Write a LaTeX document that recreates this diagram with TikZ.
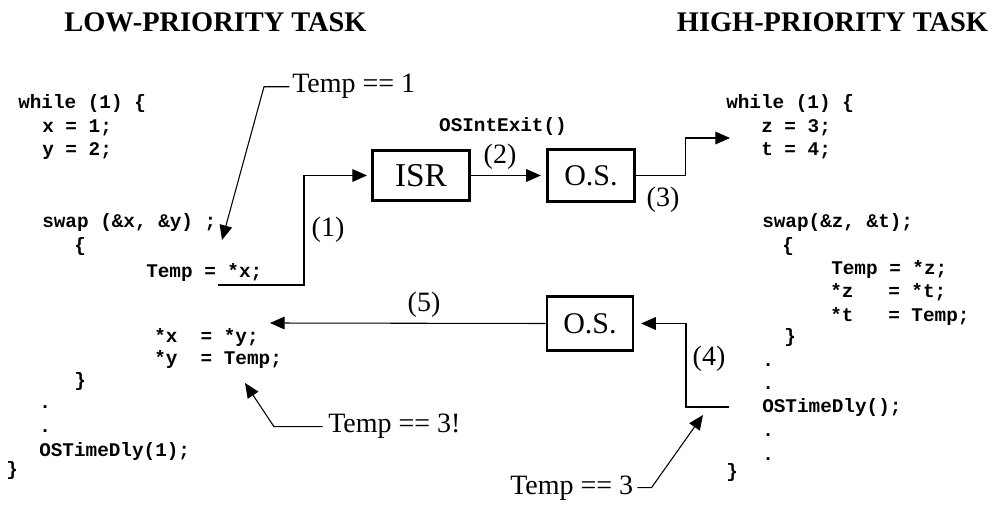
\documentclass[tikz,border=0pt]{standalone}
\usepackage{fontspec}
\setmainfont{Liberation Serif}
\newfontfamily\codefont{Liberation Mono}
\usetikzlibrary{arrows.meta}
\begin{document}
\begin{tikzpicture}[x=0.75pt,y=-0.75pt,
  code/.style={font=\codefont\bfseries\fontsize{14.5}{18}\selectfont, inner sep=0pt, anchor=base west},
  title/.style={font=\bfseries\fontsize{21.3}{24}\selectfont, inner sep=0pt, anchor=base},
  lbl/.style={font=\fontsize{21}{24}\selectfont, inner sep=0pt},
  box/.style={draw, line width=2.2pt, font=\fontsize{22.5}{24}\selectfont, inner sep=0pt},
  arr/.style={line width=0.8pt, -{Triangle[length=11pt,width=9.5pt]}},
  wire/.style={line width=0.8pt}]
\useasboundingbox (0,0) rectangle (992,505);

% titles
\node[title] (tlow) at (215.5,32) {LOW-PRIORITY TASK};
\node[title] (thigh) at (832.5,32) {HIGH-PRIORITY TASK};

% left code
\node[code] (l1) at (18,109) {while (1) \{};
\node[code] (l2) at (42,133) {x = 1;};
\node[code] (l3) at (42,156) {y = 2;};
\node[code] (l4) at (42,228) {swap (\&x, \&y) ;};
\node[code] (l5) at (74,252) {\{};
\node[code] (l6) at (146,278) {Temp = *x;};
\node[code] (l7) at (154,343) {*x~~=~*y;};
\node[code] (l8) at (154,365) {*y~~=~Temp;};
\node[code] (l9) at (74,387) {\}};
\node[code] (l10) at (39,409) {.};
\node[code] (l11) at (39,433) {.};
\node[code] (l12) at (39,457) {OSTimeDly(1);};
\node[code] (l13) at (6,475) {\}};

% right code
\node[code] (r1) at (726,109) {while (1) \{};
\node[code] (r2) at (761,133) {z = 3;};
\node[code] (r3) at (761,156) {t = 4;};
\node[code] (r4) at (762,228) {swap(\&z, \&t);};
\node[code] (r5) at (782,252) {\{};
\node[code] (r6) at (831,275) {Temp = *z;};
\node[code] (r7) at (830,298) {*z~~~=~*t;};
\node[code] (r8) at (830,322) {*t~~~=~Temp;};
\node[code] (r9) at (784,343) {\}};
\node[code] (r10) at (762,367) {.};
\node[code] (r11) at (762,390) {.};
\node[code] (r12) at (762,413) {OSTimeDly();};
\node[code] (r13) at (762,437) {.};
\node[code] (r14) at (762,460) {.};
\node[code] (r15) at (726,478) {\}};

% boxes
\node[box, font=\fontsize{25}{26}\selectfont, minimum width=72.8pt, minimum height=38pt] (isr) at (421,175.5) {ISR};
\node[box, minimum width=65pt, minimum height=38.5pt] (os1) at (591,175.5) {O.S.};
\node[box, minimum width=64.5pt, minimum height=40pt] (os2) at (590,323.5) {O.S.};

\node[code, anchor=base] (exit) at (503,132) {OSIntExit()};

% step labels
\node[lbl] (n1) at (328,230) {(1)};
\node[lbl] (n2) at (500,157) {(2)};
\node[lbl] (n3) at (663,200) {(3)};
\node[lbl] (n4) at (709,359) {(4)};
\node[lbl] (n5) at (424,305) {(5)};

% Temp annotations
\node[lbl, anchor=base west] (t1) at (292,93) {Temp == 1};
\node[lbl, anchor=base west] (t3b) at (328,433) {Temp == 3!};
\node[lbl, anchor=base west] (t3) at (510,494) {Temp == 3};

% free ends
\coordinate (c1) at (218,285);
\coordinate (c3) at (730,138);
\coordinate (c4) at (729,407);
\coordinate (c5) at (270,323);
\coordinate (ct1) at (222,240);
\coordinate (ct3b) at (245,383);
\coordinate (ct3) at (703,415);

% connectors
\draw[arr, shorten >=3pt] (c1) -- ++(86,0) |- (isr.west);
\draw[arr, shorten >=4pt] (isr.east) -- (os1.west);
\draw[arr] (os1.east) -- ++(50,0) |- (c3);
\draw[arr, shorten >=5pt] (c4) -- ++(-43,0) |- (os2.east);
\draw[arr] (os2.west) -- (c5);

\draw[arr, shorten <=2pt] (t1.west) -- ++(-28,0) -- (ct1);
\draw[arr, shorten <=4pt] (t3b.west) -- ++(-54,0) -- (ct3b);
\draw[arr, shorten <=3pt] (t3.east) -- ++(18,0) -- (ct3);
\end{tikzpicture}
\end{document}
